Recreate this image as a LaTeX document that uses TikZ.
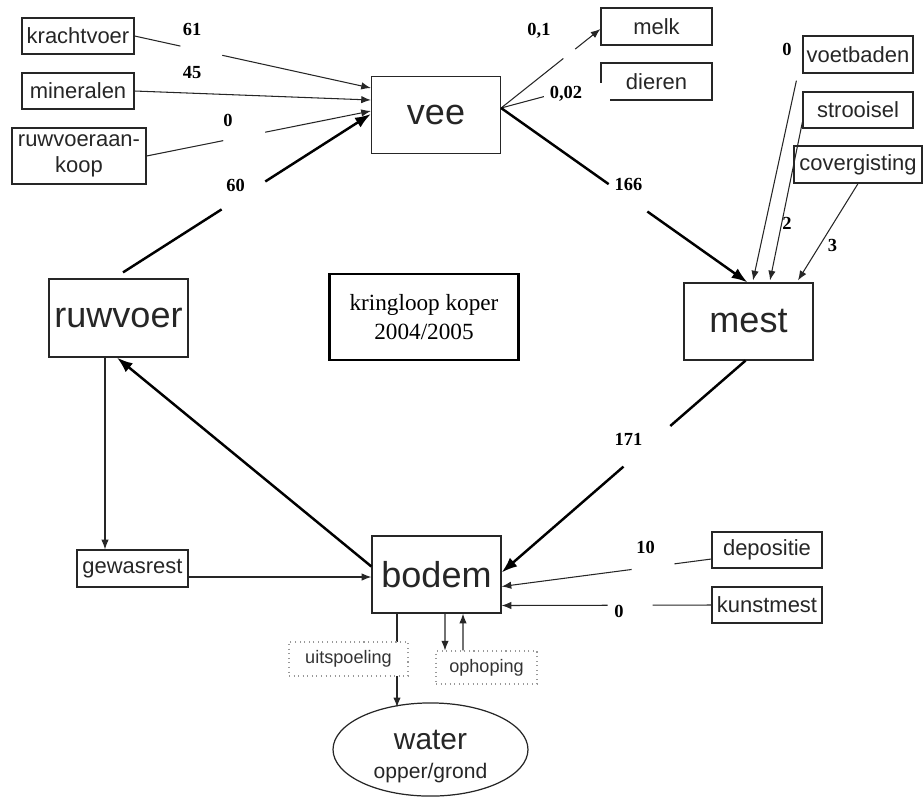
\documentclass[tikz,border=0pt]{standalone}
\usepackage{fontspec}
\setmainfont{Liberation Serif}
\setsansfont{Liberation Sans}
\usetikzlibrary{arrows.meta,shapes.geometric}
\begin{document}
\begin{tikzpicture}[x=0.02cm,y=-0.02cm,
  box/.style={draw=black!85, line width=0.7pt, rectangle, inner sep=0pt, font=\sffamily\fontsize{12.5}{15}\selectfont, text=black!85, align=center},
  bigbox/.style={box, font=\sffamily\fontsize{20.5}{24}\selectfont},
  dotbox/.style={draw=black!40, dotted, line width=0.6pt, fill=white, inner sep=0pt, font=\sffamily\fontsize{10.3}{12}\selectfont, text=black!80},
  num/.style={font=\bfseries\fontsize{10.5}{12}\selectfont, anchor=base, inner sep=0pt},
  flow/.style={line width=0.6pt, draw=black!85, -{Latex[length=5.5pt,width=4.2pt]}},
  bigflow/.style={line width=1.4pt, -{Latex[length=9pt,width=6.5pt]}},
]
\useasboundingbox (0,0) rectangle (923,796);
% nodes
\node[box, minimum width=2.24cm, minimum height=0.72cm] (kracht) at (78,36) {krachtvoer};
\node[box, minimum width=2.24cm, minimum height=0.72cm] (miner) at (78,91) {mineralen};
\node[box, minimum width=2.68cm, minimum height=1.12cm] (aankoop) at (79,156) {ruwvoeraan-\\koop};
\node[bigbox, minimum width=2.58cm, minimum height=1.54cm] (vee) at (436,115) {vee};
\node[box, minimum width=2.22cm, minimum height=0.74cm] (melk) at (656.5,26.5) {melk};
\node[box, minimum width=2.22cm, minimum height=0.74cm] (dieren) at (656.5,81.5) {dieren};
\node[box, minimum width=2.2cm, minimum height=0.74cm] (voet) at (858,54.5) {voetbaden};
\node[box, minimum width=2.2cm, minimum height=0.72cm] (stro) at (858,110) {strooisel};
\node[box, minimum width=2.56cm, minimum height=0.74cm] (cover) at (858,164.5) {covergisting};
\node[bigbox, minimum width=2.58cm, minimum height=1.54cm] (mest) at (748.5,321.5) {mest};
\node[bigbox, minimum width=2.78cm, minimum height=1.56cm] (ruwvoer) at (118.5,318) {ruwvoer};
\node[draw, line width=1.5pt, minimum width=3.78cm, minimum height=1.72cm, inner sep=0pt, align=center, font=\fontsize{13.2}{17}\selectfont] (title) at (424,317) {kringloop koper\\2004/2005};
\node[box, minimum width=2.22cm, minimum height=0.74cm] (gewas) at (132.5,568.5) {gewasrest};
\node[bigbox, minimum width=2.58cm, minimum height=1.54cm] (bodem) at (436.5,574.5) {bodem};
\node[box, minimum width=2.2cm, minimum height=0.72cm] (depos) at (767,550) {depositie};
\node[box, minimum width=2.2cm, minimum height=0.72cm] (kunst) at (767,605) {kunstmest};
\node[draw=black!85, line width=0.7pt, ellipse, minimum width=3.9cm, minimum height=1.78cm, inner sep=0pt, align=center, font=\sffamily, text=black!85] (water) at (430.5,749.5) {\fontsize{17}{18}\selectfont\rule{0pt}{18.5pt}water\\[4.5pt]\fontsize{12}{14}\selectfont opper/grond};
\node[dotbox, minimum width=2.02cm, minimum height=0.66cm] (opho) at (486.5,667.5) {ophoping};
% labels
\node[num] (l61) at (192,35) {61};
\node[num] (l45) at (192,78) {45};
\node[num] (l0a) at (228,126) {0};
\node[num] (l60) at (235.5,191) {60};
\node[num] (l01) at (539,35) {0,1};
\node[num, fill=white, anchor=center, minimum width=50pt, minimum height=12.5pt] (l002) at (566,94) {0,02};
\node[num] (l166) at (628.5,190) {166};
\node[num] (l0b) at (787,55) {0};
\node[num] (l2) at (787,229) {2};
\node[num] (l3) at (832.5,251) {3};
\node[num] (l171) at (628.5,445) {171};
\node[num] (l10) at (645.5,553) {10};
\node[num] (l0c) at (619,617) {0};
% connectors
\draw[flow, dash pattern=on 26.7pt off 24.4pt on 600pt] (kracht.east) -- ([shift={(0,-27)}]vee.west);
\draw[flow] (miner.east) -- ([shift={(0,-15)}]vee.west);
\draw[flow, dash pattern=on 44.5pt off 24.3pt on 600pt] (aankoop.east) -- ([shift={(0,-4)}]vee.west);
\draw[bigflow, dash pattern=on 66.6pt off 29.5pt on 600pt] ([shift={(4.5,-6)}]ruwvoer.north) -- ([shift={(0,-1)}]vee.west);
\draw[flow, dash pattern=on 45.3pt off 8.6pt on 600pt] ([shift={(0,-7)}]vee.east) -- ([shift={(0,2.5)}]melk.west);
\draw[line width=0.6pt, draw=black!85, dash pattern=on 25.2pt off 600pt] ([shift={(0,-7)}]vee.east) -- (dieren.west);
\draw[bigflow, dash pattern=on 75pt off 27pt on 600pt] ([shift={(0,-7)}]vee.east) -- ([shift={(-1,0)}]mest.north);
\draw[flow] ([shift={(-6,7)}]voet.south west) -- ([shift={(4.5,-2)}]mest.north);
\draw[flow] ([shift={(0,12)}]stro.west) -- ([shift={(21.5,-2)}]mest.north);
\draw[flow] (cover.south) -- ([shift={(49.5,-2)}]mest.north);
\draw[bigflow, dash pattern=on 56.7pt off 35.3pt on 600pt] ([shift={(-3,0)}]mest.south) -- ([shift={(0,-2)}]bodem.east);
\draw[flow, dash pattern=on 21.2pt off 24.6pt on 600pt] ([shift={(0,9)}]depos.west) -- ([shift={(0,12)}]bodem.east);
\draw[flow, dash pattern=on 33.5pt off 25.5pt on 600pt] (kunst.west) -- ([shift={(0,31)}]bodem.east);
\draw[bigflow] ([shift={(0,-8)}]bodem.west) -- ([shift={(-1.5,0)}]ruwvoer.south);
\draw[flow] ([shift={(-13.5,0)}]ruwvoer.south) -- ([shift={(-27.5,0)}]gewas.north);
\draw[flow] ([shift={(0,8.5)}]gewas.east) -- ([shift={(0,2.5)}]bodem.west);
\draw[flow] ([shift={(-39.5,0)}]bodem.south) -- ([shift={(-33.5,-42.3)}]water.center);
\draw[flow] ([shift={(8.5,0)}]bodem.south) -- ([shift={(-41.5,0)}]opho.north);
\draw[flow] ([shift={(-23.5,0)}]opho.north) -- ([shift={(26.5,0)}]bodem.south);
\node[dotbox, minimum width=2.38cm, minimum height=0.68cm] (uit) at (348.5,659) {uitspoeling};
\end{tikzpicture}
\end{document}
